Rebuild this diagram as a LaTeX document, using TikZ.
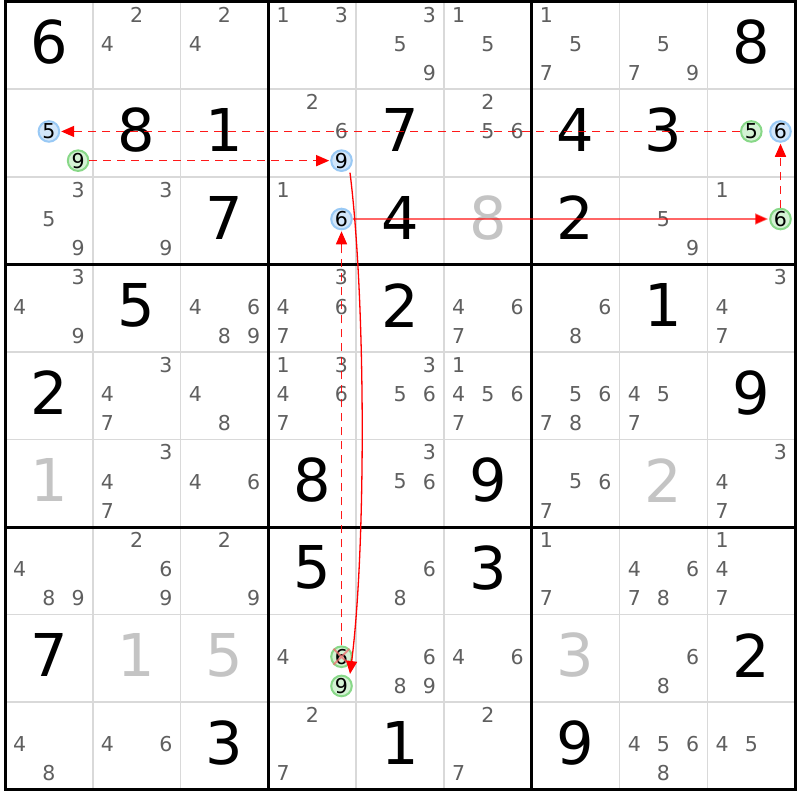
\documentclass[tikz,border=0pt]{standalone}
\usepackage{fontspec}
\setmainfont{DejaVu Sans}
\usetikzlibrary{arrows.meta}
\definecolor{thingrid}{HTML}{D9D9D9}
\definecolor{candc}{HTML}{5F5F5F}
\definecolor{grayd}{HTML}{C4C4C4}
\definecolor{bfill}{HTML}{D2E6FA}
\definecolor{bdraw}{HTML}{99C9F5}
\definecolor{gfill}{HTML}{D4F2D4}
\definecolor{gdraw}{HTML}{88D888}
\definecolor{xred}{HTML}{F07070}
\definecolor{linkred}{HTML}{FF0000}
\def\CSX{87.8}
\def\CSY{87.55}
\newcommand\Given[3]{\node[bigd] (G#1#2) at ({5+(#2-0.5)*\CSX},{1.7+(#1-0.5)*\CSY-3}) {#3};}
\newcommand\Solved[3]{\node[bigd,text=grayd] (S#1#2) at ({5+(#2-0.5)*\CSX},{1.7+(#1-0.5)*\CSY-3}) {#3};}
\newcommand\Cands[3]{\foreach \d in {#3} {\node[cand] (C#1#2\d) at ({5+(#2-1)*\CSX+14.7+29.2*mod(\d-1,3)},{1.7+(#1-1)*\CSY+13+29.2*int((\d-1)/3)}) {\d};}}
\newcommand\Hl[4]{\node[#1] (C#2#3#4) at ({5+(#3-1)*\CSX+14.7+29.2*mod(#4-1,3)},{1.7+(#2-1)*\CSY+13+29.2*int((#4-1)/3)}) {#4};}
\begin{document}
\begin{tikzpicture}[x=1pt,y=-1pt,
  bigd/.style={font=\fontsize{59}{59}\selectfont, inner sep=0pt},
  cand/.style={font=\fontsize{20.5}{20.5}\selectfont, text=candc, inner sep=0pt},
  hlb/.style={font=\fontsize{20.5}{20.5}\selectfont, text=black, inner sep=0pt, circle, minimum size=20.6pt, fill=bfill, draw=bdraw, line width=2pt},
  hlg/.style={hlb, fill=gfill, draw=gdraw},
  thinline/.style={draw=thingrid, line width=1.6pt},
  thickline/.style={draw=black, line width=3pt},
  dashlink/.style={draw=linkred, line width=1.5pt, dash pattern=on 8pt off 6pt, draw opacity=0.9},
  tiplink/.style={draw=linkred, fill=linkred, line width=1.5pt, -{Triangle[length=13pt,width=11pt]}},
  solidarrow/.style={draw=linkred, line width=1.3pt, -{Triangle[length=13pt,width=11pt]}},
]
\useasboundingbox (0,0) rectangle (800,800);
\fill[white] (0,0) rectangle (800,800);
% thin grid
\foreach \i in {1,2,4,5,7,8} {
  \draw[thinline] ({5+\i*\CSX},1.7) -- ({5+\i*\CSX},{1.7+9*\CSY});
  \draw[thinline] (5,{1.7+\i*\CSY}) -- ({5+9*\CSX},{1.7+\i*\CSY});
}
\foreach \i in {3,6} {
  \draw[thickline] ({5+\i*\CSX},1.7) -- ({5+\i*\CSX},{1.7+9*\CSY});
  \draw[thickline] (5,{1.7+\i*\CSY}) -- ({5+9*\CSX},{1.7+\i*\CSY});
}
\draw[thickline] (5,1.7) rectangle ({5+9*\CSX},{1.7+9*\CSY});
% row 1
\Given{1}{1}{6} \Cands{1}{2}{2,4} \Cands{1}{3}{2,4} \Cands{1}{4}{1,3} \Cands{1}{5}{3,5,9}
\Cands{1}{6}{1,5} \Cands{1}{7}{1,5,7} \Cands{1}{8}{5,7,9} \Given{1}{9}{8}
% row 2
\Hl{hlb}{2}{1}{5} \Hl{hlg}{2}{1}{9} \Given{2}{2}{8} \Given{2}{3}{1} \Cands{2}{4}{2,6} \Hl{hlb}{2}{4}{9}
\Given{2}{5}{7} \Cands{2}{6}{2,5,6} \Given{2}{7}{4} \Given{2}{8}{3} \Hl{hlg}{2}{9}{5} \Hl{hlb}{2}{9}{6}
% row 3
\Cands{3}{1}{3,5,9} \Cands{3}{2}{3,9} \Given{3}{3}{7} \Cands{3}{4}{1} \Hl{hlb}{3}{4}{6} \Given{3}{5}{4}
\Solved{3}{6}{8} \Given{3}{7}{2} \Cands{3}{8}{5,9} \Cands{3}{9}{1} \Hl{hlg}{3}{9}{6}
% row 4
\Cands{4}{1}{3,4,9} \Given{4}{2}{5} \Cands{4}{3}{4,6,8,9} \Cands{4}{4}{3,4,6,7} \Given{4}{5}{2}
\Cands{4}{6}{4,6,7} \Cands{4}{7}{6,8} \Given{4}{8}{1} \Cands{4}{9}{3,4,7}
% row 5
\Given{5}{1}{2} \Cands{5}{2}{3,4,7} \Cands{5}{3}{4,8} \Cands{5}{4}{1,3,4,6,7} \Cands{5}{5}{3,5,6}
\Cands{5}{6}{1,4,5,6,7} \Cands{5}{7}{5,6,7,8} \Cands{5}{8}{4,5,7} \Given{5}{9}{9}
% row 6
\Solved{6}{1}{1} \Cands{6}{2}{3,4,7} \Cands{6}{3}{4,6} \Given{6}{4}{8} \Cands{6}{5}{3,5,6}
\Given{6}{6}{9} \Cands{6}{7}{5,6,7} \Solved{6}{8}{2} \Cands{6}{9}{3,4,7}
% row 7
\Cands{7}{1}{4,8,9} \Cands{7}{2}{2,6,9} \Cands{7}{3}{2,9} \Given{7}{4}{5} \Cands{7}{5}{6,8}
\Given{7}{6}{3} \Cands{7}{7}{1,7} \Cands{7}{8}{4,6,7,8} \Cands{7}{9}{1,4,7}
% row 8
\Given{8}{1}{7} \Solved{8}{2}{1} \Solved{8}{3}{5} \Cands{8}{4}{4} \Hl{hlg}{8}{4}{6} \Hl{hlg}{8}{4}{9}
\Cands{8}{5}{6,8,9} \Cands{8}{6}{4,6} \Solved{8}{7}{3} \Cands{8}{8}{6,8} \Given{8}{9}{2}
% row 9
\Cands{9}{1}{4,8} \Cands{9}{2}{4,6} \Given{9}{3}{3} \Cands{9}{4}{2,7} \Given{9}{5}{1}
\Cands{9}{6}{2,7} \Given{9}{7}{9} \Cands{9}{8}{4,5,6,8} \Cands{9}{9}{4,5}
% cross on eliminated candidate
\draw[xred, line width=2pt, opacity=0.75] (C846.135) -- (C846.-45) (C846.45) -- (C846.-135);
% dashed links: line then tip
\draw[dashlink, shorten >=12pt] (C295.west) -- (C215.east);
\draw[tiplink, shorten >=1pt] ([xshift=14pt]C215.east) -- (C215.east);
\draw[dashlink, shorten >=12pt] (C219.east) -- (C249.west);
\draw[tiplink, shorten >=1pt] ([xshift=-14pt]C249.west) -- (C249.west);
\draw[dashlink, shorten >=12pt] (C396.north) -- (C296.south);
\draw[tiplink, shorten >=1pt] ([yshift=-14pt]C296.south) -- (C296.south);
\draw[dashlink, shorten >=12pt] (C846.north) -- (C346.south);
\draw[tiplink, shorten >=1pt] ([yshift=-14pt]C346.south) -- (C346.south);
% solid links
\draw[linkred, line width=1.6pt, draw opacity=0.6, -{Triangle[length=13pt,width=11pt]}, shorten >=1pt] (C346) -- (C396);
\coordinate (k1) at (366,300);
\coordinate (k2) at (366,550);
\draw[solidarrow, shorten <=4pt, shorten >=4pt] (C249.-45) .. controls (k1) and (k2) .. (C849.45);
\end{tikzpicture}
\end{document}
